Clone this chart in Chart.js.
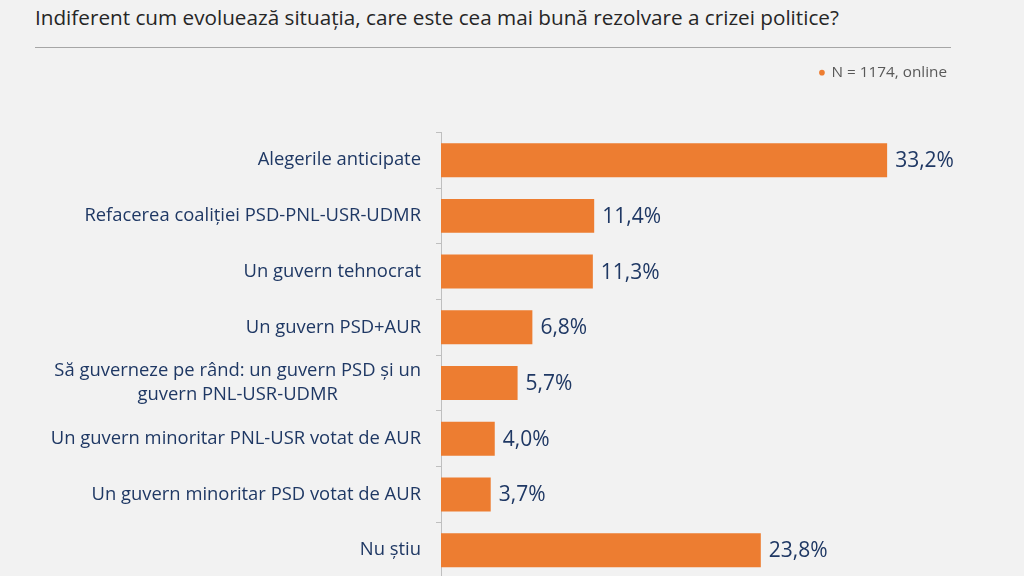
<!DOCTYPE html>
<html>
<head>
<meta charset="utf-8">
<script src="https://cdn.jsdelivr.net/npm/chart.js@4"></script>
<style>
  html, body { margin: 0; padding: 0; background: #f2f2f2; overflow: hidden; }
  body { width: 1024px; height: 576px; position: relative; font-family: "Open Sans", sans-serif; }
  #title { position: absolute; left: 35px; top: 3px; font-size: 20.7px; color: #262626; white-space: nowrap; }
  #rule { position: absolute; left: 35px; top: 47px; width: 916px; height: 0; border-top: 1.5px solid #a6a6a6; }
  #wrap { position: absolute; left: 0; top: 55px; width: 1024px; height: 545px; }
</style>
</head>
<body>
<div id="title">Indiferent cum evoluează situația, care este cea mai bună rezolvare a crizei politice?</div>
<div id="rule"></div>
<div id="wrap"><canvas id="ch"></canvas></div>
<script>
const categories = [
  ['Alegerile anticipate'],
  ['Refacerea coaliției PSD-PNL-USR-UDMR'],
  ['Un guvern tehnocrat'],
  ['Un guvern PSD+AUR'],
  ['Să guverneze pe rând: un guvern PSD și un', 'guvern PNL-USR-UDMR'],
  ['Un guvern minoritar PNL-USR votat de AUR'],
  ['Un guvern minoritar PSD votat de AUR'],
  ['Nu știu']
];
const values = [33.2, 11.4, 11.3, 6.8, 5.7, 4.0, 3.7, 23.8];
const seriesName = 'N = 1174, online';

const navy = '#1f3864';
const orange = '#ed7d31';

function fmt(v) {
  return v.toFixed(1).replace('.', ',') + '%';
}

// extra space under the legend
const legendGap = {
  id: 'legendGap',
  beforeInit(chart) {
    const orig = chart.legend.fit;
    chart.legend.fit = function () {
      orig.bind(chart.legend)();
      this.height += 42;
    };
  }
};

// category labels: block right-aligned, lines centred inside the block
const catLabels = {
  id: 'catLabels',
  afterDraw(chart) {
    const ctx = chart.ctx;
    const y = chart.scales.y;
    ctx.save();
    ctx.font = '18.4px "Open Sans"';
    ctx.fillStyle = navy;
    ctx.textAlign = 'center';
    ctx.textBaseline = 'middle';
    const right = y.right - 20;
    const lh = 24;
    categories.forEach((lines, i) => {
      const cy = y.getPixelForValue(i);
      const w = Math.max(...lines.map(l => ctx.measureText(l).width));
      const top = cy - (lines.length - 1) * lh / 2;
      lines.forEach((l, j) => ctx.fillText(l, right - w / 2, top + j * lh));
    });
    ctx.restore();
  }
};

// value labels after each bar
const valLabels = {
  id: 'valLabels',
  afterDatasetsDraw(chart) {
    const ctx = chart.ctx;
    const meta = chart.getDatasetMeta(0);
    ctx.save();
    ctx.font = '21px "Open Sans"';
    ctx.fillStyle = navy;
    ctx.textAlign = 'left';
    ctx.textBaseline = 'middle';
    meta.data.forEach((bar, i) => {
      ctx.fillText(fmt(values[i]), bar.x + 8, bar.y + 1);
    });
    ctx.restore();
  }
};

const ch = document.getElementById('ch').getContext('2d');
new Chart(ch, {
  type: 'bar',
  data: {
    labels: categories.map(c => c.join(' ')),
    datasets: [{
      label: seriesName,
      data: values,
      backgroundColor: orange,
      categoryPercentage: 1,
      barPercentage: 0.61
    }]
  },
  options: {
    indexAxis: 'y',
    responsive: true,
    maintainAspectRatio: false,
    animation: { duration: 0 },
    events: [],
    layout: { padding: { top: 0, bottom: 22, right: 67, left: 0 } },
    scales: {
      x: { display: false, min: 0, max: 38.4 },
      y: {
        afterFit(scale) { scale.width = 441; },
        border: { color: '#bfbfbf', width: 1 },
        grid: { drawOnChartArea: false, color: '#bfbfbf', tickLength: 5 },
        ticks: { display: false }
      }
    },
    plugins: {
      legend: {
        position: 'top',
        align: 'end',
        labels: {
          usePointStyle: true,
          pointStyle: 'circle',
          boxWidth: 4,
          boxHeight: 4,
          color: '#595959',
          font: { family: '"Open Sans"', size: 15.3 }
        }
      },
      tooltip: { enabled: false }
    }
  },
  plugins: [legendGap, catLabels, valLabels]
});
</script>
</body>
</html>
